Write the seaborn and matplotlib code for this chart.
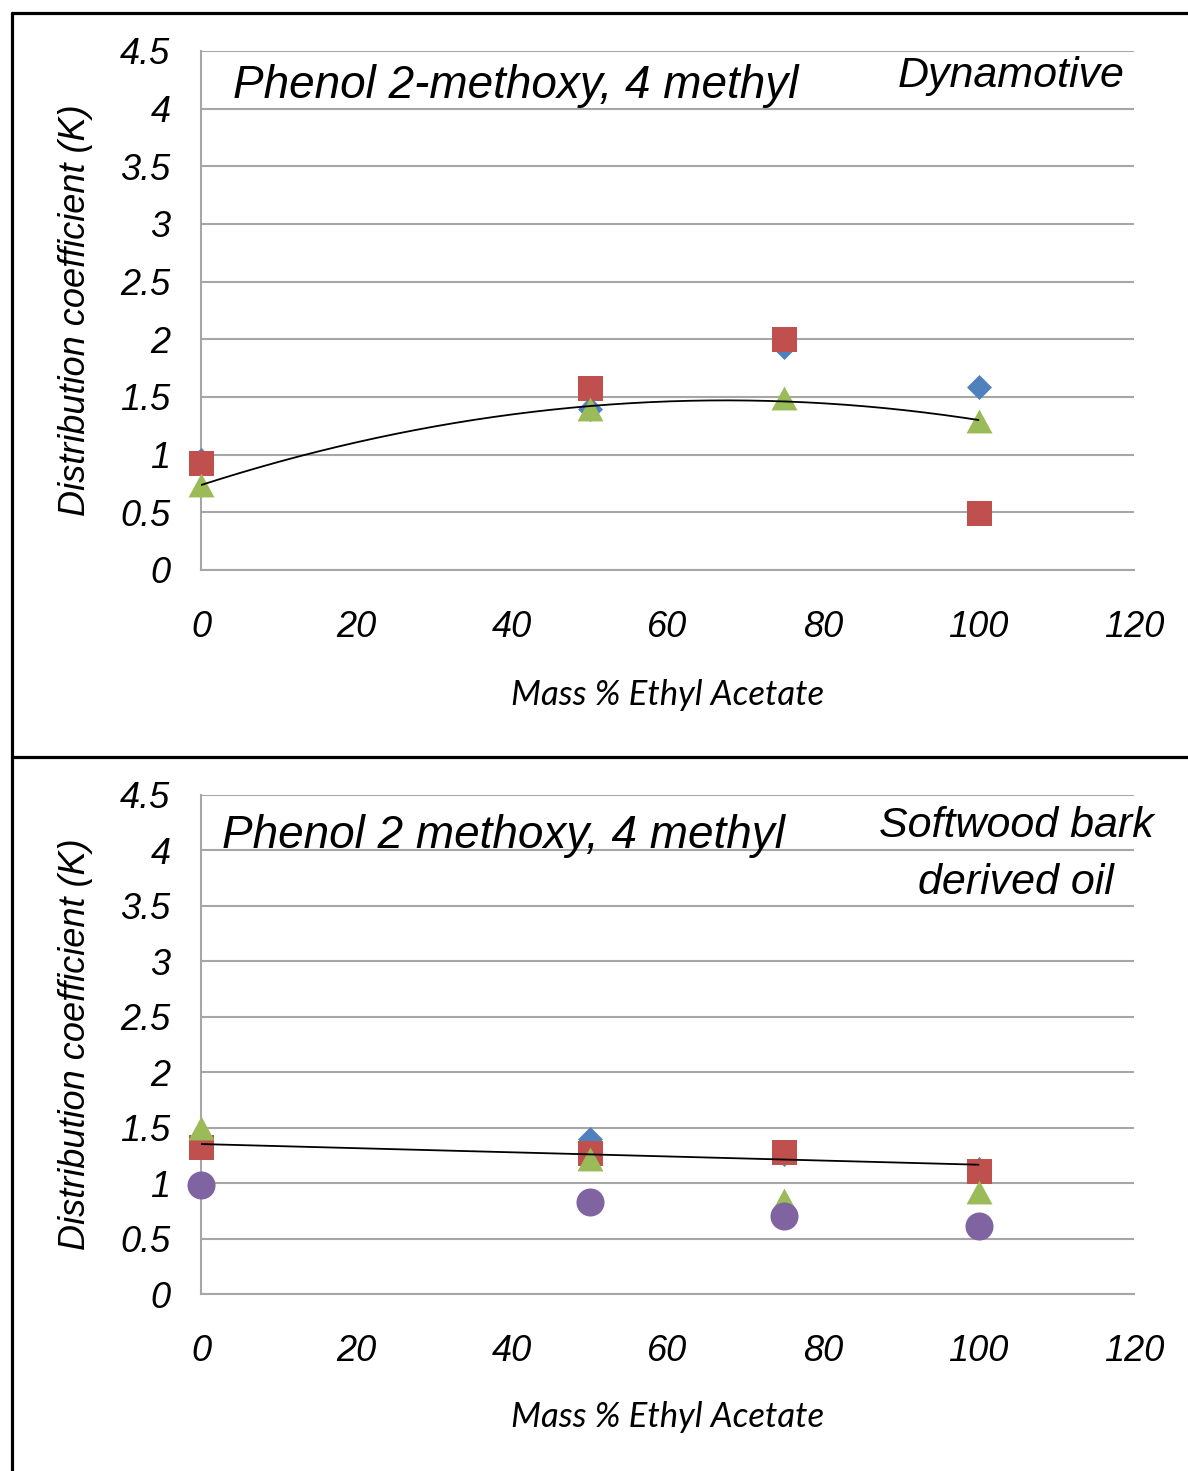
import numpy as np
import pandas as pd
import matplotlib
matplotlib.use("Agg")
import matplotlib.pyplot as plt
from matplotlib.path import Path
from matplotlib.lines import Line2D
import seaborn as sns

# ---- data -------------------------------------------------------------
mass_pct = [0, 50, 75, 100]

# Dynamotive oil
dyn_blue = [0.95, 1.40, 1.93, 1.59]
dyn_red = [0.93, 1.58, 2.00, 0.49]
dyn_green = [0.74, 1.40, 1.49, 1.29]

# Softwood bark derived oil
sw_blue = [1.38, 1.40, 1.26, 1.13]
sw_red = [1.33, 1.27, 1.28, 1.11]
sw_green = [1.50, 1.22, 0.85, 0.92]
sw_purple = [0.98, 0.83, 0.70, 0.61]

y_ticks = [0, 0.5, 1, 1.5, 2, 2.5, 3, 3.5, 4, 4.5]
y_tick_labels = ["0", "0.5", "1", "1.5", "2", "2.5", "3", "3.5", "4", "4.5"]
x_ticks = [0, 20, 40, 60, 80, 100, 120]
x_tick_labels = ["0", "20", "40", "60", "80", "100", "120"]

x_title = "Mass % Ethyl Acetate"
y_title = "Distribution coefficient (K)"

# ---- style ------------------------------------------------------------
sns.set_style("white")
plt.rcParams["font.family"] = ["Liberation Sans", "DejaVu Sans"]
plt.rcParams["text.color"] = "black"
plt.rcParams["axes.labelcolor"] = "black"

BLUE = "#4F81BD"
RED = "#C0504D"
GREEN = "#9BBB59"
PURPLE = "#8064A2"
GRID = "#a6a6a6"

FIG_W, FIG_H = 1188, 1471

# marker shapes
sq_marker = Path([(-0.5, -0.5), (0.5, -0.5), (0.5, 0.5), (-0.5, 0.5), (-0.5, -0.5)],
                 [Path.MOVETO, Path.LINETO, Path.LINETO, Path.LINETO, Path.CLOSEPOLY])
dia_marker = Path([(0, -0.5), (0.5, 0), (0, 0.5), (-0.5, 0), (0, -0.5)],
                  [Path.MOVETO, Path.LINETO, Path.LINETO, Path.LINETO, Path.CLOSEPOLY])
tri_marker = Path([(-0.5, -0.46), (0.5, -0.46), (0, 0.46), (-0.5, -0.46)],
                  [Path.MOVETO, Path.LINETO, Path.LINETO, Path.CLOSEPOLY])
circ_marker = Path.unit_circle()

fig = plt.figure(figsize=(FIG_W / 100, FIG_H / 100), dpi=100)


def px_axes(left, right, top, bottom):
    return fig.add_axes([left / FIG_W, 1 - bottom / FIG_H,
                         (right - left) / FIG_W, (bottom - top) / FIG_H])


def style_axes(ax, xlab_y):
    ax.set_xlim(0, 120)
    ax.set_ylim(0, 4.5)
    ax.set_xticks(x_ticks)
    ax.set_xticklabels(x_tick_labels)
    ax.set_yticks(y_ticks)
    ax.set_yticklabels(y_tick_labels)
    ax.tick_params(axis="both", which="major", labelsize=26, length=8,
                   width=1.3, color=GRID, labelcolor="black", direction="out")
    ax.tick_params(axis="x", pad=21)
    ax.tick_params(axis="y", pad=14)
    for lab in ax.get_xticklabels() + ax.get_yticklabels():
        lab.set_fontstyle("italic")
    ax.grid(axis="y", color=GRID, linewidth=1.5)
    ax.grid(axis="x", visible=False)
    for s in ["top", "right"]:
        ax.spines[s].set_visible(False)
    for s in ["left", "bottom"]:
        ax.spines[s].set_color(GRID)
        ax.spines[s].set_linewidth(1.5)
    ax.set_axisbelow(True)
    ax.set_xlabel(x_title, fontsize=25, fontstyle="italic", va="center",
                  family=["Lato", "Liberation Sans", "DejaVu Sans"])
    ax.xaxis.set_label_coords(0.5, xlab_y)
    ax.set_ylabel(y_title, fontsize=26, fontstyle="italic", va="center")
    ax.yaxis.set_label_coords(-0.135, 0.5)


def scatter(ax, values, marker, size_pt, color):
    df = pd.DataFrame({"x": mass_pct, "y": values})
    sns.scatterplot(data=df, x="x", y="y", ax=ax, marker=marker, s=size_pt ** 2,
                    color=color, linewidth=0, clip_on=False, zorder=3)


# ---- top panel: Dynamotive -------------------------------------------
ax1 = px_axes(201, 1134, 51, 570)
scatter(ax1, dyn_blue, dia_marker, 18, BLUE)
scatter(ax1, dyn_red, sq_marker, 18, RED)
scatter(ax1, dyn_green, tri_marker, 18.7, GREEN)

# second-order trend line through the green series
coef = np.polyfit(mass_pct, dyn_green, 2)
xs = np.linspace(0, 100, 200)
sns.lineplot(x=xs, y=np.polyval(coef, xs), ax=ax1, color="black",
             linewidth=1.3, zorder=4)
style_axes(ax1, (570 - 695) / 519)

# ---- bottom panel: softwood bark derived oil -------------------------
ax2 = px_axes(201, 1134, 795, 1294)
scatter(ax2, sw_blue, dia_marker, 18, BLUE)
scatter(ax2, sw_red, sq_marker, 18, RED)
scatter(ax2, sw_green, tri_marker, 18.7, GREEN)
scatter(ax2, sw_purple, circ_marker, 20.2, PURPLE)

# linear trend line through the red series
coef2 = np.polyfit(mass_pct, sw_red, 1)
xs2 = np.array([0, 100])
sns.lineplot(x=xs2, y=np.polyval(coef2, xs2), ax=ax2, color="black",
             linewidth=1.3, zorder=4)
style_axes(ax2, (1294 - 1417) / 499)

# ---- panel annotations -----------------------------------------------
def fig_text(x, y, s, ha="left", size=32):
    fig.text(x / FIG_W, 1 - y / FIG_H, s, ha=ha, va="baseline",
             fontsize=size, fontstyle="italic", color="black")


fig_text(233, 98, "Phenol 2-methoxy, 4 methyl", size=33)
fig_text(1125, 87, "Dynamotive", ha="right", size=31)
fig_text(222, 848, "Phenol 2 methoxy, 4 methyl", size=33)
fig_text(1016, 837, "Softwood bark", ha="center", size=31)
fig_text(1016, 894, "derived oil", ha="center", size=31)

# ---- outer frame ------------------------------------------------------
def frame_line(x0, y0, x1, y1):
    fig.add_artist(Line2D([x0 / FIG_W, x1 / FIG_W], [1 - y0 / FIG_H, 1 - y1 / FIG_H],
                          transform=fig.transFigure, color="black", linewidth=2.3))


frame_line(12, 13, 12, FIG_H + 5)
frame_line(12, 13, FIG_W + 5, 13)
frame_line(12, 757, FIG_W + 5, 757)

fig.savefig("out.png", dpi=100)
